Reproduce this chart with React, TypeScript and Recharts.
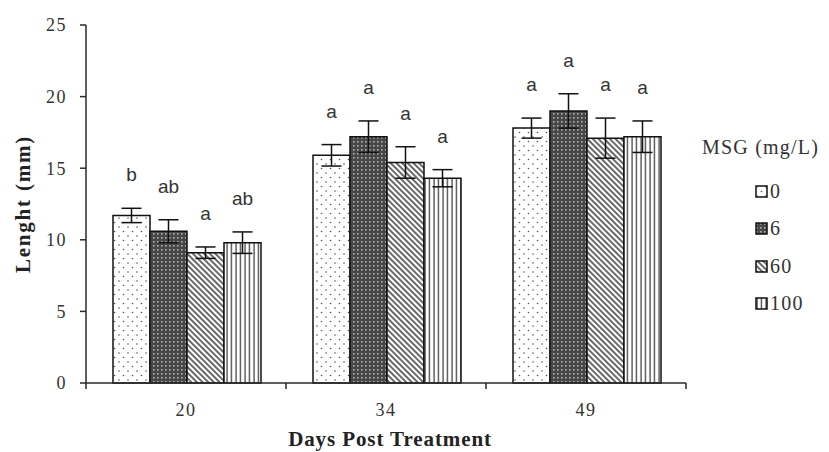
import React from 'react';
import { BarChart, Bar, XAxis, YAxis, ErrorBar, LabelList } from 'recharts';

const categories = ['20', '34', '49'];
const seriesNames = ['0', '6', '60', '100'];
const msg0 = [11.7, 15.9, 17.8];
const msg6 = [10.6, 17.2, 19.0];
const msg60 = [9.1, 15.4, 17.1];
const msg100 = [9.8, 14.3, 17.2];
const err0 = [0.5, 0.75, 0.7];
const err6 = [0.8, 1.1, 1.2];
const err60 = [0.4, 1.1, 1.4];
const err100 = [0.75, 0.6, 1.1];
const letters0 = ['b', 'a', 'a'];
const letters6 = ['ab', 'a', 'a'];
const letters60 = ['a', 'a', 'a'];
const letters100 = ['ab', 'a', 'a'];
const yTicks = [0, 5, 10, 15, 20, 25];

const seriesValues = [msg0, msg6, msg60, msg100];
const seriesErrors = [err0, err6, err60, err100];
const seriesLetters = [letters0, letters6, letters60, letters100];

const data = categories.map((c, i) => {
  const row: any = { day: c };
  seriesValues.forEach((vals, s) => {
    row['v' + s] = vals[i];
    row['e' + s] = seriesErrors[s][i];
    row['l' + s] = seriesLetters[s][i];
  });
  return row;
});

const SERIF = '"Liberation Serif", "Times New Roman", serif';
const SANS = '"Liberation Sans", Arial, sans-serif';
const INK = '#2a2a2a';

const patternDefs = (prefix: string) => (
  <defs>
    <pattern id={prefix + '0'} patternUnits="userSpaceOnUse" width={9} height={9}>
      <rect width={9} height={9} fill="#fff" />
      <circle cx={2} cy={2} r={0.8} fill="#555" />
      <circle cx={6.5} cy={6.5} r={0.8} fill="#555" />
    </pattern>
    <pattern id={prefix + '1'} patternUnits="userSpaceOnUse" width={4} height={4}>
      <rect width={4} height={4} fill="#474747" />
      <rect x={1} y={1} width={1.6} height={1.6} fill="#b0b0b0" />
    </pattern>
    <pattern id={prefix + '2'} patternUnits="userSpaceOnUse" width={4} height={4} patternTransform="rotate(-45)">
      <rect width={4} height={4} fill="#fff" />
      <line x1={1} y1={0} x2={1} y2={4} stroke="#444" strokeWidth={1.6} />
    </pattern>
    <pattern id={prefix + '3'} patternUnits="userSpaceOnUse" width={4.5} height={4}>
      <rect width={4.5} height={4} fill="#fff" />
      <line x1={2} y1={0} x2={2} y2={4} stroke="#222" strokeWidth={1.1} />
    </pattern>
  </defs>
);

const renderLetter = (p: any, s: number) => {
  const { x, y, width, height, value, index } = p;
  const v = data[index]['v' + s];
  const e = data[index]['e' + s];
  const pxPerUnit = Number(height) / v;
  const errTop = Number(y) - e * pxPerUnit;
  return (
    <text
      x={Number(x) + Number(width) / 2}
      y={errTop - 27}
      textAnchor="middle"
      fontFamily={SANS}
      fontSize={19}
      fill="#333"
    >
      {value}
    </text>
  );
};

const XTick = (props: any) => {
  const { x, y, payload } = props;
  const off = payload && payload.offset ? payload.offset : 100;
  const axisY = y - 8;
  const isLast = payload.index === categories.length - 1;
  return (
    <g>
      <line x1={x - off} y1={axisY} x2={x - off} y2={axisY + 6} stroke={INK} strokeWidth={1.5} />
      {isLast && <line x1={x + off} y1={axisY} x2={x + off} y2={axisY + 6} stroke={INK} strokeWidth={1.5} />}
      <text x={x} y={axisY + 33} textAnchor="middle" fontFamily={SERIF} fontSize={18} letterSpacing={1.5} fill="#333">
        {payload.value}
      </text>
    </g>
  );
};

export default function App() {
  return (
    <div style={{ position: 'absolute', left: 0, top: 0, width: 829, height: 452, background: '#fff' }}>
      <BarChart
        width={829}
        height={452}
        data={data}
        margin={{ top: 25, right: 143, bottom: 39, left: 0 }}
        barCategoryGap="13.5%"
        barGap={0}
      >
        {patternDefs('bp')}
        <XAxis
          dataKey="day"
          height={30}
          axisLine={{ stroke: INK, strokeWidth: 1.5 }}
          tickLine={false}
          tick={<XTick />}
          interval={0}
          label={{
            content: (lp: any) => {
              const vb = lp.viewBox || { x: 86, width: 600 };
              return (
                <text
                  x={vb.x + vb.width / 2 + 4}
                  y={446}
                  textAnchor="middle"
                  fontFamily={SERIF}
                  fontWeight="bold"
                  fontSize={21}
                  letterSpacing={0.9}
                  fill="#222"
                >
                  Days Post Treatment
                </text>
              );
            },
          }}
        />
        <YAxis
          width={86}
          domain={[0, 25]}
          ticks={yTicks}
          interval={0}
          axisLine={{ stroke: INK, strokeWidth: 1.5 }}
          tickLine={{ stroke: INK, strokeWidth: 1.5 }}
          tickSize={6}
          tickMargin={13}
          tick={{ fill: '#333', fontFamily: SERIF, fontSize: 18, letterSpacing: 1.5 }}
          label={{
            content: (lp: any) => {
              const vb = lp.viewBox || { y: 25, height: 358 };
              const cy = vb.y + vb.height / 2;
              return (
                <text
                  x={30}
                  y={cy}
                  transform={`rotate(-90, 30, ${cy})`}
                  textAnchor="middle"
                  fontFamily={SERIF}
                  fontWeight="bold"
                  fontSize={21}
                  letterSpacing={1.8}
                  fill="#222"
                >
                  Lenght (mm)
                </text>
              );
            },
          }}
        />
        {seriesNames.map((name, s) => (
          <Bar
            key={name}
            dataKey={'v' + s}
            name={name}
            fill={`url(#bp${s})`}
            stroke="#111"
            strokeWidth={1.5}
            isAnimationActive={false}
          >
            <ErrorBar dataKey={'e' + s} width={10} stroke="#111" strokeWidth={1.5} direction="y" />
            <LabelList dataKey={'l' + s} content={(p: any) => renderLetter(p, s)} />
          </Bar>
        ))}
      </BarChart>
      <div style={{ position: 'absolute', left: 702, top: 134, fontFamily: SERIF, color: '#333' }}>
        <div style={{ fontSize: 20, letterSpacing: 1.2, lineHeight: '26px', whiteSpace: 'nowrap' }}>MSG (mg/L)</div>
      </div>
      {seriesNames.map((name, s) => (
        <div
          key={name}
          style={{
            position: 'absolute',
            left: 755,
            top: 191 + s * 37.5 - 13,
            height: 26,
            display: 'flex',
            alignItems: 'center',
            fontFamily: SERIF,
            fontSize: 20,
            letterSpacing: 1.2,
            color: '#333',
            whiteSpace: 'nowrap',
          }}
        >
          <svg width={13} height={13} style={{ marginRight: 2 }}>
            {patternDefs('lp' + s + '_')}
            <rect x={1} y={1} width={11} height={11} fill={`url(#lp${s}_${s})`} stroke="#111" strokeWidth={1.5} />
          </svg>
          <span>{name}</span>
        </div>
      ))}
    </div>
  );
}
